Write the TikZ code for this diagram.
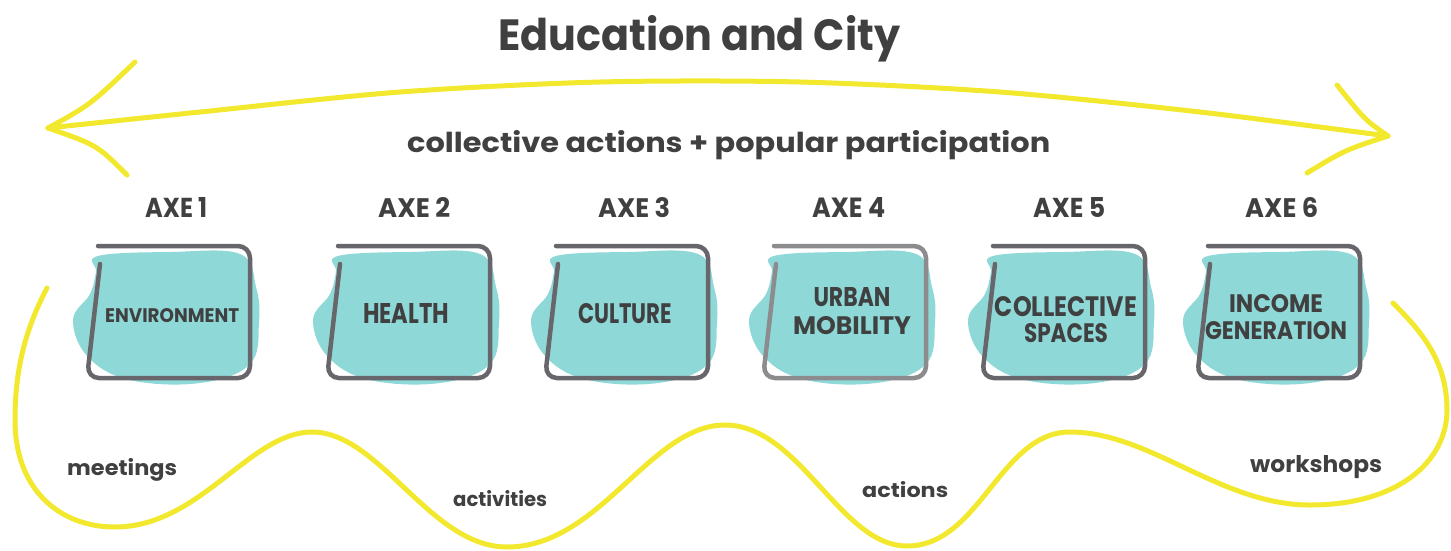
\documentclass[tikz,border=0pt]{standalone}
\usepackage{fontspec}
\setmainfont{Poppins}
\usepackage{graphicx}
\definecolor{ylw}{HTML}{F2E82E}
\definecolor{blobc}{HTML}{8FD8D8}
\definecolor{txt}{HTML}{404040}
\definecolor{boxg}{HTML}{67676B}
\definecolor{boxl}{HTML}{8C8C8E}
\colorlet{boxcol}{boxg}
\newcommand{\rs}[3]{\resizebox{#1pt}{#2pt}{#3}}
\tikzset{
  ylwline/.style={draw=ylw, line width=5pt, line cap=round, line join=round},
  boxline/.style={draw=boxcol, line width=4.5pt, rounded corners=12pt, line cap=round},
  lbl/.style={inner sep=0pt, text=txt, font=\bfseries},
  boxlbl/.style={inner sep=0pt, text=txt, font=\bfseries\fontsize{10}{#1}\selectfont, align=center},
  boxlbl/.default=26,
  axebox/.pic={
    \fill[blobc] plot[smooth cycle, tension=0.65] coordinates {(-72,-56) (0,-60) (70,-58) (86,-25) (89,10) (80,52) (30,71) (-40,68) (-82,45) (-97,8) (-80,-18) (-74,-40)};
    \draw[boxline] (-70,-48) -- (-83,66) -- (80,66) -- (80,-66) -- (-72,-66);
  }
}
\begin{document}
\begin{tikzpicture}[x=1pt,y=-1pt]
\useasboundingbox (0,0) rectangle (1451,550);

% title and subtitle
\node[lbl, anchor=base west] (title) at (498,50) {\rs{402}{35}{Education and City}};
\node[lbl, anchor=base west] (sub) at (407,152) {\rs{643}{22}{collective actions + popular participation}};

% top double arrow
\coordinate (Ltip) at (48,128);
\coordinate (Rtip) at (1388,136);
\draw[ylwline] plot[smooth, tension=0.5] coordinates {(Ltip) (200,112) (400,92) (600,82) (800,82) (1000,92) (1200,112) (Rtip)};
\draw[ylwline] (135,62) .. controls (90,105) .. (Ltip);
\draw[ylwline] (Ltip) .. controls (97,145) .. (127,175);
\draw[ylwline] (1337,85) .. controls (1365,120) .. (Rtip);
\draw[ylwline] (Rtip) .. controls (1345,150) .. (1307,173);

% axe labels
\node[lbl, anchor=base west] (axe1) at (145,217) {\rs{62}{20}{AXE 1}};
\node[lbl, anchor=base west] (axe2) at (378,217) {\rs{72}{20}{AXE 2}};
\node[lbl, anchor=base west] (axe3) at (598,217) {\rs{72}{20}{AXE 3}};
\node[lbl, anchor=base west] (axe4) at (812,217) {\rs{73}{20}{AXE 4}};
\node[lbl, anchor=base west] (axe5) at (1033,217) {\rs{72}{20}{AXE 5}};
\node[lbl, anchor=base west] (axe6) at (1245,217) {\rs{73}{20}{AXE 6}};

% boxes
\pic at (170,312) {axebox};
\pic at (410,312) {axebox};
\pic at (628,312) {axebox};
\begin{scope}
\colorlet{boxcol}{boxl}
\pic at (846,312) {axebox};
\end{scope}
\pic at (1065,312) {axebox};
\pic at (1280,312) {axebox};

\node[lbl, anchor=base west] (b1) at (105,322) {\rs{134}{14}{ENVIRONMENT}};
\node[lbl, anchor=base west] (b2) at (363,323) {\rs{86}{20}{HEALTH}};
\node[lbl, anchor=base west] (b3) at (578,323) {\rs{94}{20}{CULTURE}};
\node[boxlbl=28] (b4) at (852,311.5) {\rs{77}{19}{URBAN}\\\rs{118}{18}{MOBILITY}};
\node[boxlbl=26] (b5) at (1066,320) {\rs{142}{20}{COLLECTIVE}\\\rs{84}{19}{SPACES}};
\node[boxlbl=27] (b6) at (1276,317.5) {\rs{94}{18}{INCOME}\\\rs{142}{18}{GENERATION}};

% bottom wave
\coordinate (wstart) at (47,288);
\coordinate (wend) at (1393,303);
\draw[ylwline] (wstart) .. controls (25,330) and (15,370) .. (15,420)
  .. controls (15,490) and (60,527) .. (115,527)
  .. controls (200,527) and (250,432) .. (312,432)
  .. controls (380,432) and (430,547) .. (507,547)
  .. controls (600,547) and (650,425) .. (725,425)
  .. controls (800,425) and (840,546) .. (907,546)
  .. controls (980,546) and (1000,432) .. (1070,432)
  .. controls (1150,432) and (1220,505) .. (1310,505)
  .. controls (1400,505) and (1447,460) .. (1447,410)
  .. controls (1447,360) and (1420,330) .. (wend);

% bottom labels
\node[lbl, anchor=base west] (meet) at (67,475) {\rs{110}{17}{meetings}};
\node[lbl, anchor=base west] (act) at (453,506) {\rs{94}{16}{activities}};
\node[lbl, anchor=base west] (acts) at (862,497) {\rs{86}{16}{actions}};
\node[lbl, anchor=base west] (work) at (1250,472) {\rs{132}{17}{workshops}};
\end{tikzpicture}
\end{document}
